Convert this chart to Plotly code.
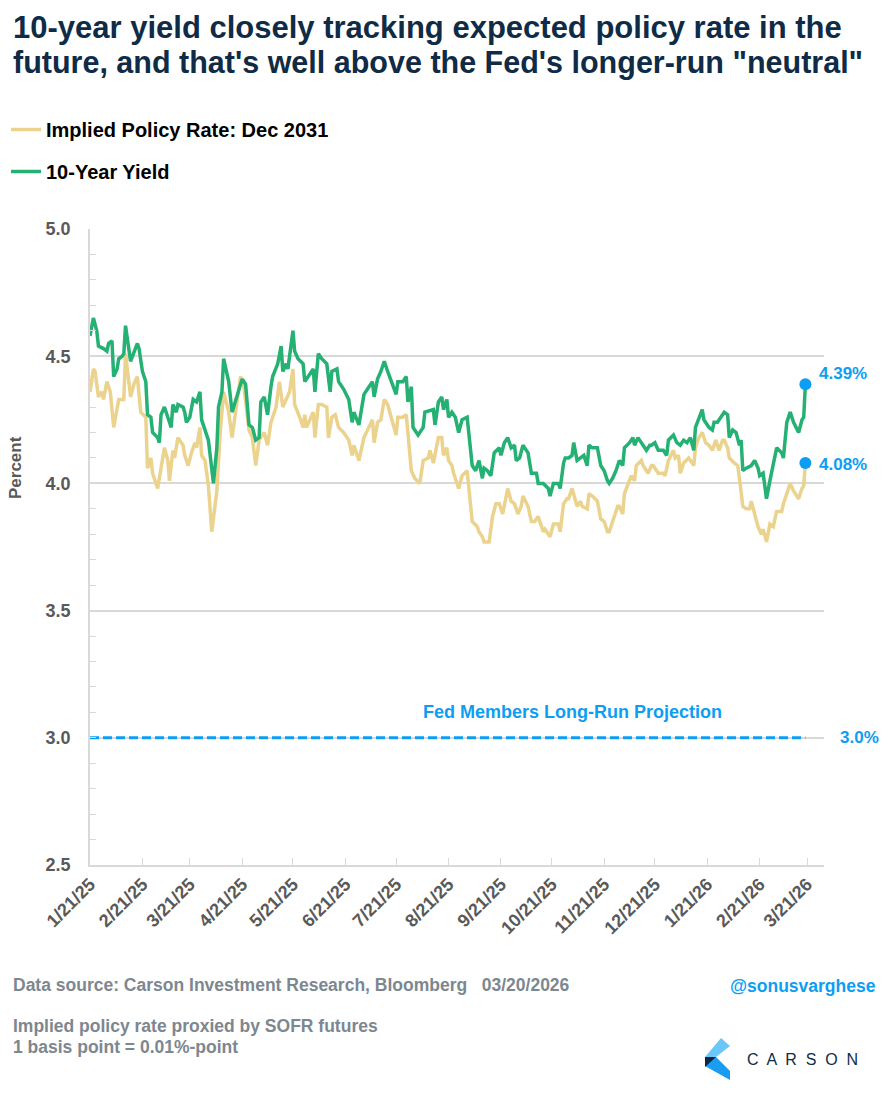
import plotly.graph_objects as go

# ---------------- data ----------------
ten_year_dates = ["2025-01-21","2025-01-23","2025-01-25","2025-01-26","2025-01-29","2025-01-31","2025-02-01","2025-02-03","2025-02-04","2025-02-06","2025-02-07","2025-02-09","2025-02-10","2025-02-11","2025-02-14","2025-02-16","2025-02-18","2025-02-19","2025-02-21","2025-02-23","2025-02-24","2025-02-26","2025-02-27","2025-03-02","2025-03-03","2025-03-04","2025-03-06","2025-03-08","2025-03-10","2025-03-11","2025-03-13","2025-03-14","2025-03-17","2025-03-18","2025-03-19","2025-03-21","2025-03-23","2025-03-25","2025-03-27","2025-03-28","2025-03-30","2025-04-01","2025-04-04","2025-04-06","2025-04-07","2025-04-09","2025-04-10","2025-04-13","2025-04-15","2025-04-18","2025-04-21","2025-04-23","2025-04-25","2025-04-27","2025-04-29","2025-05-01","2025-05-02","2025-05-04","2025-05-06","2025-05-08","2025-05-09","2025-05-12","2025-05-14","2025-05-15","2025-05-17","2025-05-18","2025-05-21","2025-05-22","2025-05-24","2025-05-27","2025-05-28","2025-05-31","2025-06-02","2025-06-03","2025-06-05","2025-06-07","2025-06-10","2025-06-12","2025-06-13","2025-06-16","2025-06-17","2025-06-20","2025-06-23","2025-06-25","2025-06-26","2025-06-29","2025-07-02","2025-07-05","2025-07-07","2025-07-08","2025-07-10","2025-07-12","2025-07-14","2025-07-16","2025-07-18","2025-07-21","2025-07-22","2025-07-25","2025-07-27","2025-07-28","2025-07-30","2025-07-31","2025-08-03","2025-08-06","2025-08-07","2025-08-12","2025-08-13","2025-08-15","2025-08-17","2025-08-18","2025-08-20","2025-08-21","2025-08-23","2025-08-25","2025-08-27","2025-08-29","2025-09-01","2025-09-04","2025-09-06","2025-09-08","2025-09-10","2025-09-11","2025-09-13","2025-09-15","2025-09-17","2025-09-20","2025-09-21","2025-09-23","2025-09-25","2025-09-27","2025-09-29","2025-09-30","2025-10-02","2025-10-04","2025-10-07","2025-10-09","2025-10-12","2025-10-13","2025-10-16","2025-10-19","2025-10-20","2025-10-22","2025-10-25","2025-10-26","2025-10-28","2025-10-29","2025-10-31","2025-11-02","2025-11-03","2025-11-05","2025-11-07","2025-11-09","2025-11-11","2025-11-12","2025-11-14","2025-11-17","2025-11-19","2025-11-21","2025-11-23","2025-11-24","2025-11-26","2025-11-28","2025-11-30","2025-12-02","2025-12-03","2025-12-06","2025-12-08","2025-12-09","2025-12-11","2025-12-13","2025-12-16","2025-12-18","2025-12-19","2025-12-21","2025-12-23","2025-12-26","2025-12-28","2025-12-29","2026-01-01","2026-01-03","2026-01-05","2026-01-07","2026-01-09","2026-01-11","2026-01-13","2026-01-14","2026-01-16","2026-01-18","2026-01-19","2026-01-22","2026-01-24","2026-01-25","2026-01-27","2026-01-29","2026-01-31","2026-02-02","2026-02-03","2026-02-05","2026-02-07","2026-02-09","2026-02-10","2026-02-11","2026-02-13","2026-02-16","2026-02-18","2026-02-20","2026-02-21","2026-02-23","2026-02-25","2026-02-27","2026-03-01","2026-03-03","2026-03-06","2026-03-07","2026-03-09","2026-03-11","2026-03-13","2026-03-16","2026-03-18","2026-03-19","2026-03-20"]
ten_year_values = [4.58,4.65,4.60,4.54,4.53,4.52,4.55,4.56,4.42,4.45,4.49,4.50,4.51,4.62,4.48,4.52,4.55,4.53,4.44,4.40,4.27,4.26,4.20,4.18,4.16,4.27,4.30,4.26,4.22,4.31,4.28,4.31,4.30,4.28,4.24,4.26,4.33,4.32,4.36,4.25,4.21,4.17,4.00,4.14,4.30,4.36,4.49,4.40,4.28,4.35,4.41,4.39,4.23,4.22,4.17,4.18,4.32,4.34,4.27,4.38,4.42,4.47,4.54,4.44,4.47,4.45,4.60,4.52,4.49,4.47,4.40,4.43,4.45,4.36,4.51,4.49,4.47,4.36,4.44,4.45,4.40,4.37,4.33,4.24,4.28,4.23,4.35,4.38,4.40,4.34,4.41,4.44,4.48,4.44,4.40,4.35,4.40,4.40,4.42,4.32,4.38,4.22,4.19,4.22,4.28,4.29,4.23,4.32,4.34,4.29,4.33,4.26,4.28,4.26,4.20,4.25,4.26,4.07,4.05,4.09,4.02,4.06,4.05,4.03,4.12,4.14,4.11,4.16,4.18,4.14,4.15,4.09,4.10,4.15,4.12,4.04,4.04,4.00,4.00,3.98,3.95,4.00,4.00,3.98,4.08,4.10,4.10,4.11,4.16,4.09,4.10,4.11,4.07,4.15,4.14,4.14,4.07,4.05,4.01,4.00,4.02,4.05,4.09,4.07,4.14,4.16,4.18,4.15,4.18,4.16,4.13,4.15,4.15,4.16,4.13,4.13,4.11,4.17,4.19,4.16,4.15,4.17,4.16,4.18,4.13,4.22,4.26,4.29,4.25,4.22,4.21,4.24,4.24,4.26,4.28,4.27,4.18,4.21,4.20,4.15,4.17,4.05,4.06,4.07,4.09,4.06,4.03,4.04,3.94,4.01,4.07,4.14,4.12,4.10,4.24,4.28,4.24,4.20,4.25,4.26,4.39]

implied_dates = ["2025-01-21","2025-01-23","2025-01-24","2025-01-26","2025-01-28","2025-01-29","2025-01-31","2025-02-02","2025-02-04","2025-02-07","2025-02-10","2025-02-11","2025-02-14","2025-02-16","2025-02-18","2025-02-20","2025-02-23","2025-02-24","2025-02-26","2025-02-27","2025-03-02","2025-03-05","2025-03-06","2025-03-08","2025-03-09","2025-03-11","2025-03-12","2025-03-14","2025-03-17","2025-03-18","2025-03-20","2025-03-22","2025-03-24","2025-03-25","2025-03-27","2025-03-28","2025-03-30","2025-04-01","2025-04-03","2025-04-06","2025-04-08","2025-04-10","2025-04-13","2025-04-15","2025-04-18","2025-04-20","2025-04-22","2025-04-25","2025-04-27","2025-04-29","2025-05-01","2025-05-04","2025-05-06","2025-05-08","2025-05-11","2025-05-13","2025-05-15","2025-05-18","2025-05-19","2025-05-21","2025-05-22","2025-05-25","2025-05-27","2025-05-28","2025-05-29","2025-06-02","2025-06-03","2025-06-05","2025-06-07","2025-06-10","2025-06-11","2025-06-13","2025-06-15","2025-06-17","2025-06-20","2025-06-23","2025-06-25","2025-06-26","2025-06-29","2025-07-02","2025-07-05","2025-07-07","2025-07-08","2025-07-10","2025-07-12","2025-07-14","2025-07-16","2025-07-19","2025-07-21","2025-07-22","2025-07-25","2025-07-27","2025-07-28","2025-07-30","2025-08-01","2025-08-04","2025-08-06","2025-08-09","2025-08-10","2025-08-12","2025-08-15","2025-08-17","2025-08-18","2025-08-20","2025-08-21","2025-08-23","2025-08-24","2025-08-27","2025-08-29","2025-09-01","2025-09-04","2025-09-07","2025-09-08","2025-09-10","2025-09-11","2025-09-14","2025-09-16","2025-09-18","2025-09-20","2025-09-22","2025-09-25","2025-09-27","2025-09-29","2025-10-01","2025-10-03","2025-10-04","2025-10-07","2025-10-09","2025-10-11","2025-10-13","2025-10-16","2025-10-17","2025-10-20","2025-10-22","2025-10-25","2025-10-26","2025-10-28","2025-10-30","2025-10-31","2025-11-02","2025-11-05","2025-11-07","2025-11-08","2025-11-11","2025-11-12","2025-11-14","2025-11-17","2025-11-19","2025-11-21","2025-11-23","2025-11-24","2025-11-26","2025-11-29","2025-11-30","2025-12-02","2025-12-03","2025-12-06","2025-12-07","2025-12-09","2025-12-10","2025-12-13","2025-12-14","2025-12-17","2025-12-19","2025-12-20","2025-12-23","2025-12-26","2025-12-27","2025-12-29","2026-01-01","2026-01-02","2026-01-04","2026-01-05","2026-01-07","2026-01-10","2026-01-11","2026-01-13","2026-01-14","2026-01-16","2026-01-18","2026-01-20","2026-01-22","2026-01-24","2026-01-26","2026-01-28","2026-01-30","2026-01-31","2026-02-02","2026-02-03","2026-02-06","2026-02-08","2026-02-09","2026-02-11","2026-02-13","2026-02-15","2026-02-16","2026-02-18","2026-02-20","2026-02-22","2026-02-23","2026-02-25","2026-02-27","2026-03-01","2026-03-03","2026-03-06","2026-03-07","2026-03-10","2026-03-11","2026-03-13","2026-03-16","2026-03-18","2026-03-19","2026-03-20"]
implied_values = [4.36,4.45,4.44,4.34,4.36,4.33,4.40,4.36,4.22,4.33,4.33,4.51,4.34,4.39,4.42,4.28,4.26,4.06,4.10,4.04,3.98,4.09,4.14,4.09,4.01,4.13,4.10,4.18,4.15,4.11,4.07,4.12,4.16,4.14,4.22,4.11,4.09,3.99,3.81,3.97,4.20,4.36,4.28,4.18,4.32,4.42,4.38,4.21,4.18,4.07,4.17,4.20,4.15,4.24,4.30,4.40,4.30,4.34,4.36,4.45,4.31,4.26,4.22,4.27,4.22,4.28,4.18,4.31,4.31,4.30,4.18,4.26,4.27,4.22,4.20,4.17,4.11,4.15,4.09,4.18,4.22,4.25,4.16,4.24,4.25,4.33,4.31,4.24,4.19,4.26,4.26,4.27,4.19,4.05,4.02,4.00,4.09,4.10,4.13,4.08,4.18,4.18,4.11,4.14,4.09,4.07,4.04,3.98,4.03,4.05,3.85,3.83,3.81,3.79,3.77,3.77,3.87,3.92,3.92,3.88,3.98,3.93,3.92,3.88,3.91,3.95,3.91,3.85,3.85,3.87,3.81,3.82,3.79,3.84,3.84,3.81,3.92,3.94,3.94,3.98,3.91,3.93,3.91,3.90,3.96,3.95,3.93,3.86,3.85,3.81,3.81,3.85,3.91,3.91,3.88,3.96,4.01,4.03,4.01,4.07,4.09,4.07,4.04,4.07,4.07,4.04,4.04,4.03,4.09,4.13,4.10,4.11,4.04,4.08,4.10,4.09,4.07,4.14,4.18,4.20,4.16,4.15,4.13,4.17,4.13,4.17,4.17,4.14,4.10,4.08,4.07,4.02,3.91,3.90,3.90,3.93,3.88,3.83,3.80,3.82,3.77,3.84,3.83,3.89,3.89,3.92,3.98,4.00,3.97,3.94,3.98,3.99,4.08]

fed_longrun_value = 3.0

tick_dates = ["2025-01-21","2025-02-21","2025-03-21","2025-04-21","2025-05-21","2025-06-21","2025-07-21","2025-08-21","2025-09-21","2025-10-21","2025-11-21","2025-12-21","2026-01-21","2026-02-21","2026-03-21"]
tick_labels = ["1/21/25","2/21/25","3/21/25","4/21/25","5/21/25","6/21/25","7/21/25","8/21/25","9/21/25","10/21/25","11/21/25","12/21/25","1/21/26","2/21/26","3/21/26"]

# ---------------- style ----------------
FONT = "Liberation Sans, Arial, sans-serif"
GREEN = "#25b074"
GOLD = "#ebd38e"
BLUE = "#0d9ef3"
NAVY = "#0f2b46"
GRAY = "#595959"
FOOT = "#7d8790"
GRID = "#d9d9d9"

W, H = 889, 1100
L, R, T, B = 90, 65, 229, 235
PW, PH = W - L - R, H - T - B


def px(x):
    return (x - L) / PW


def py(y):
    return (H - B - y) / PH


fig = go.Figure()

fig.add_trace(go.Scatter(
    x=implied_dates, y=implied_values, mode="lines",
    name="<b>Implied Policy Rate: Dec 2031</b>",
    line=dict(color=GOLD, width=3.5), legendgroup="a"))
fig.add_trace(go.Scatter(
    x=ten_year_dates, y=ten_year_values, mode="lines",
    name="<b>10-Year Yield</b>",
    line=dict(color=GREEN, width=3.5), legendgroup="b"))

# Fed long-run projection
fig.add_trace(go.Scatter(
    x=[ten_year_dates[0], ten_year_dates[-1]],
    y=[fed_longrun_value, fed_longrun_value], mode="lines",
    line=dict(color=BLUE, width=3, dash="9px,4px"), showlegend=False))

# end markers
fig.add_trace(go.Scatter(
    x=[ten_year_dates[-1], implied_dates[-1]],
    y=[ten_year_values[-1], implied_values[-1]], mode="markers",
    marker=dict(color=BLUE, size=12), showlegend=False))


def note(x, y, text, size, color, xanchor="left", **kw):
    return dict(x=px(x), y=py(y), xref="paper", yref="paper", text=text,
                showarrow=False, xanchor=xanchor, yanchor="middle",
                font=dict(family=FONT, size=size, color=color), **kw)


annotations = [
    dict(x=ten_year_dates[-1], y=ten_year_values[-1], xref="x", yref="y",
         text=f"<b>{ten_year_values[-1]:.2f}%</b>", showarrow=False,
         xanchor="left", yanchor="middle", xshift=12, yshift=11,
         font=dict(family=FONT, size=17, color=BLUE)),
    dict(x=implied_dates[-1], y=implied_values[-1], xref="x", yref="y",
         text=f"<b>{implied_values[-1]:.2f}%</b>", showarrow=False,
         xanchor="left", yanchor="middle", xshift=12, yshift=-1,
         font=dict(family=FONT, size=17, color=BLUE)),
    dict(x=ten_year_dates[-1], y=fed_longrun_value, xref="x", yref="y",
         text=f"<b>{fed_longrun_value:.1f}%</b>", showarrow=False,
         xanchor="left", yanchor="middle", xshift=33,
         font=dict(family=FONT, size=17, color=BLUE)),
    dict(x="2025-11-02", y=3.1, xref="x", yref="y",
         text="<b>Fed Members Long-Run Projection</b>", showarrow=False,
         xanchor="center", yanchor="middle",
         font=dict(family=FONT, size=18, color=BLUE)),
    note(15, 468, "<b>Percent</b>", 17, GRAY, xanchor="center", textangle=-90),
    note(11, 28, "<b>10-year yield closely tracking expected policy rate in the</b>", 31, NAVY),
    note(11, 62, "<b>future, and that's well above the Fed's longer-run \"neutral\"</b>", 30.5, NAVY),
    note(11, 985, "<b>Data source: Carson Investment Research, Bloomberg   03/20/2026</b>", 17.5, FOOT),
    note(878, 986, "<b>@sonusvarghese</b>", 17.5, BLUE, xanchor="right"),
    note(11, 1026, "<b>Implied policy rate proxied by SOFR futures</b>", 17.5, FOOT),
    note(11, 1047, "<b>1 basis point = 0.01%-point</b>", 17.5, FOOT),
    note(745, 1059, "C  A  R  S  O  N", 16, NAVY),
]


def path(points):
    return "M " + " L ".join(f"{px(a):.5f},{py(b):.5f}" for a, b in points) + " Z"


shapes = [
    dict(type="path", xref="paper", yref="paper", line=dict(width=0),
         fillcolor="#6cc7f9", path=path([(705, 1057), (721, 1038), (730, 1046), (716, 1057)])),
    dict(type="path", xref="paper", yref="paper", line=dict(width=0),
         fillcolor="#1a9cf0", path=path([(705, 1057), (716, 1057), (730, 1071), (730, 1080), (705, 1066)])),
    dict(type="path", xref="paper", yref="paper", line=dict(width=0),
         fillcolor="#12253f", path=path([(705, 1057), (716, 1057), (705, 1067)])),
]

fig.update_layout(
    width=W, height=H,
    margin=dict(l=L, r=R, t=T, b=B, autoexpand=False),
    paper_bgcolor="white", plot_bgcolor="white",
    font=dict(family=FONT, color=GRAY),
    showlegend=True,
    legend=dict(x=px(6), y=py(110), xanchor="left", yanchor="top",
                orientation="v", tracegroupgap=13, itemwidth=30,
                font=dict(family=FONT, size=20, color="#000000"),
                bgcolor="rgba(0,0,0,0)"),
    annotations=annotations,
    shapes=shapes,
    xaxis=dict(type="date", range=["2025-01-21", "2026-03-31"],
               tickvals=tick_dates, ticktext=[f"<b>{t}</b>" for t in tick_labels],
               tickangle=-45, tickfont=dict(family=FONT, size=18, color=GRAY),
               showgrid=False, showline=True, linecolor=GRID, linewidth=1.5,
               ticks="inside", ticklen=7, tickcolor=GRID, tickwidth=1,
               zeroline=False, fixedrange=True),
    yaxis=dict(range=[2.5, 5.0], tickvals=[2.5, 3.0, 3.5, 4.0, 4.5, 5.0],
               ticktext=["<b>2.5</b>", "<b>3.0</b>", "<b>3.5</b>", "<b>4.0</b>", "<b>4.5</b>", "<b>5.0</b>"],
               tickfont=dict(family=FONT, size=18, color=GRAY),
               showgrid=True, gridcolor=GRID, gridwidth=1.5,
               showline=True, linecolor=GRID, linewidth=1.5,
               ticks="inside", ticklen=6, tickcolor=GRID,
               ticklabelstandoff=14,
               minor=dict(dtick=0.1, ticks="inside", ticklen=6, tickcolor=GRID, showgrid=False),
               zeroline=False, fixedrange=True),
)

fig.write_html("out.html", config={"displayModeBar": False},
               post_script="document.body.style.margin='0';")
